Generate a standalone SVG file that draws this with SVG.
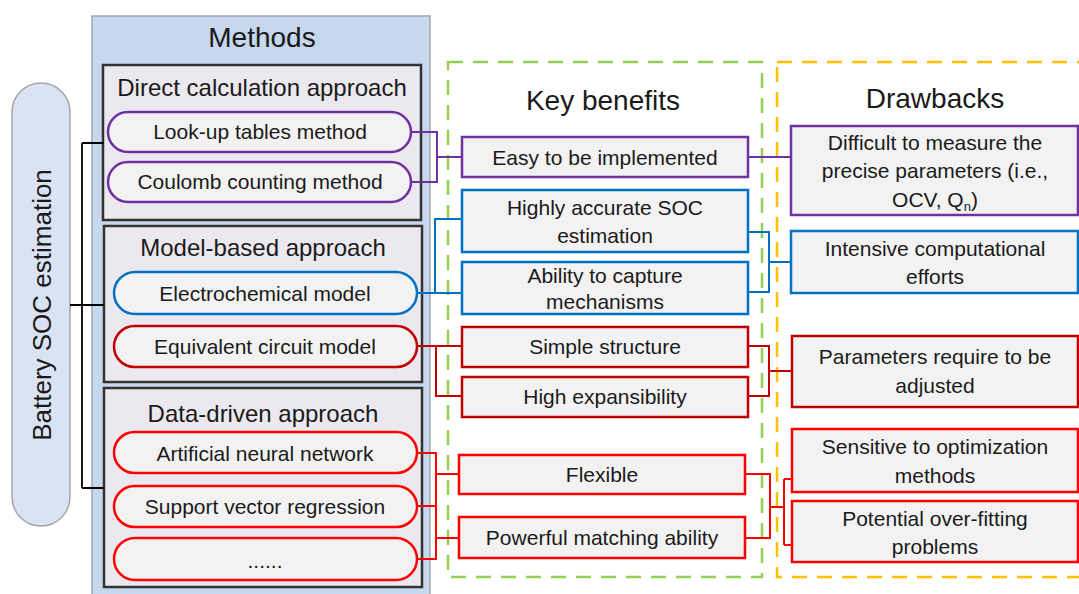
<svg xmlns="http://www.w3.org/2000/svg" width="1079" height="594" viewBox="0 0 1079 594">
<style>
text{font-family:"Liberation Sans",Arial,sans-serif;fill:#1a1a1a;text-anchor:middle}
.t{font-size:21px}
.h{font-size:28px}
.a{font-size:24px}
.box{fill:#f2f2f2;stroke-width:2.5}
.pill{fill:#f2f2f2;stroke-width:2.5}
.appr{fill:#ece8f0;stroke:#333;stroke-width:2.5}
.purple{stroke:#7030a0}
.blue{stroke:#0070c0}
.dred{stroke:#c00000}
.red{stroke:#ff0000}
.c{fill:none;stroke-width:2}
.blk{fill:none;stroke:#000;stroke-width:1.8}
.dash{fill:none;stroke-width:2.5;stroke-dasharray:15 10}
</style>
<rect width="1079" height="594" fill="#fff"/>
<g id="methods-panel">
<rect x="92" y="16" width="338" height="590" fill="#c6d7ee" stroke="#a0a8b4" stroke-width="1.5"/>
<text x="262" y="47" class="h">Methods</text>
</g>
<g id="benefits-panel">
<rect x="448" y="62" width="314" height="515" class="dash" stroke="#92d050"/>
<text x="603" y="110" class="h">Key benefits</text>
</g>
<g id="drawbacks-panel">
<rect x="777" y="62" width="320" height="515" class="dash" stroke="#ffc000"/>
<text x="935" y="108" class="h">Drawbacks</text>
</g>
<g id="battery">
<rect x="12" y="83" width="58" height="443" rx="29" fill="#dae3f3" stroke="#a6a6a6" stroke-width="1.5"/>
<text transform="translate(51 305) rotate(-90)" style="font-size:26px">Battery SOC estimation</text>
</g>
<g id="direct">
<rect x="103" y="65" width="318" height="155" class="appr"/>
<text x="262" y="96" class="a">Direct calculation approach</text>
</g>
<g id="lookup">
<rect x="108" y="112" width="303" height="40" rx="20" class="pill purple"/>
<text x="260" y="139" class="t">Look-up tables method</text>
</g>
<g id="coulomb">
<rect x="108" y="162" width="303" height="40" rx="20" class="pill purple"/>
<text x="260" y="189" class="t">Coulomb counting method</text>
</g>
<g id="model">
<rect x="104" y="226" width="318" height="156" class="appr"/>
<text x="263" y="256" class="a">Model-based approach</text>
</g>
<g id="electro">
<rect x="114" y="272" width="303" height="42" rx="21" class="pill blue"/>
<text x="265" y="301" class="t">Electrochemical model</text>
</g>
<g id="equiv">
<rect x="114" y="326" width="303" height="41" rx="20.5" class="pill dred"/>
<text x="265" y="354" class="t">Equivalent circuit model</text>
</g>
<g id="data">
<rect x="104" y="388" width="318" height="199" class="appr"/>
<text x="263" y="422" class="a">Data-driven approach</text>
</g>
<g id="ann">
<rect x="114" y="432" width="303" height="41" rx="20.5" class="pill red"/>
<text x="265" y="461" class="t">Artificial neural network</text>
</g>
<g id="svr">
<rect x="114" y="486" width="303" height="41" rx="20.5" class="pill red"/>
<text x="265" y="514" class="t">Support vector regression</text>
</g>
<g id="more">
<rect x="114" y="538" width="303" height="42" rx="21" class="pill red"/>
<text x="265" y="568" class="t">......</text>
</g>
<g id="easy">
<rect x="462" y="137" width="286" height="40" class="box purple"/>
<text x="605" y="165" class="t">Easy to be implemented</text>
</g>
<g id="accurate">
<rect x="462" y="190" width="286" height="62" class="box blue"/>
<text x="605" y="215" class="t">Highly accurate SOC</text>
<text x="605" y="243" class="t">estimation</text>
</g>
<g id="capture">
<rect x="462" y="262" width="286" height="52" class="box blue"/>
<text x="605" y="283" class="t">Ability to capture</text>
<text x="605" y="309" class="t">mechanisms</text>
</g>
<g id="simple">
<rect x="462" y="327" width="286" height="40" class="box dred"/>
<text x="605" y="354" class="t">Simple structure</text>
</g>
<g id="expans">
<rect x="462" y="377" width="286" height="40" class="box dred"/>
<text x="605" y="404" class="t">High expansibility</text>
</g>
<g id="flexible">
<rect x="459" y="455" width="286" height="39" class="box red"/>
<text x="602" y="482" class="t">Flexible</text>
</g>
<g id="powerful">
<rect x="459" y="517" width="286" height="41" class="box red"/>
<text x="602" y="545" class="t">Powerful matching ability</text>
</g>
<g id="difficult">
<rect x="791" y="126" width="287" height="89" class="box purple"/>
<text x="935" y="150" class="t">Difficult to measure the</text>
<text x="935" y="178" class="t">precise parameters (i.e.,</text>
<text x="935" y="207" class="t">OCV, Q<tspan font-size="13" dy="4">n</tspan><tspan dy="-4">)</tspan></text>
</g>
<g id="intensive">
<rect x="791" y="231" width="287" height="62" class="box blue"/>
<text x="935" y="256" class="t">Intensive computational</text>
<text x="935" y="284" class="t">efforts</text>
</g>
<g id="params">
<rect x="792" y="336" width="286" height="71" class="box dred"/>
<text x="935" y="364" class="t">Parameters require to be</text>
<text x="935" y="393" class="t">adjusted</text>
</g>
<g id="sensitive">
<rect x="792" y="429" width="286" height="63" class="box red"/>
<text x="935" y="454" class="t">Sensitive to optimization</text>
<text x="935" y="483" class="t">methods</text>
</g>
<g id="overfit">
<rect x="792" y="501" width="286" height="61" class="box red"/>
<text x="935" y="526" class="t">Potential over-fitting</text>
<text x="935" y="554" class="t">problems</text>
</g>
<g id="connectors">
<path class="blk" d="M70 305H104M82 143V488M82 143H104M82 488H104"/>
<path class="c purple" d="M411 132H437V182H411M437 157H462M748 157H791"/>
<path class="c blue" d="M417 293H462M435 293V219H462M748 232H769V292H748M769 262H791"/>
<path class="c dred" d="M417 346H462M436 346V396H462M748 346H769V396H748M769 371H792"/>
<path class="c red" d="M417 453H436V559H417M417 506H436M436 474H459M436 538H459M745 474H770V538H745M770 507H784M784 479V545M784 479H792M784 545H792"/>
</g>
</svg>
